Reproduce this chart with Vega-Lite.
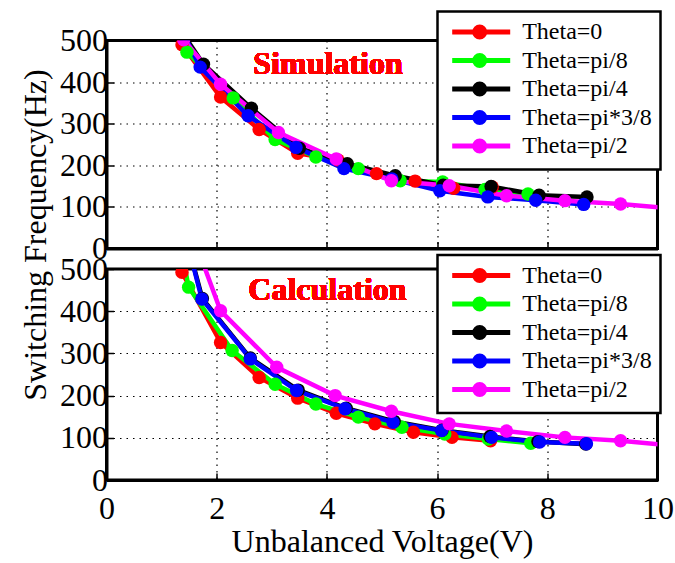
{
  "$schema": "https://vega.github.io/schema/vega-lite/v6.json",
  "padding": {"top": 8.5, "left": 17.5, "right": 5, "bottom": 5},
  "background": "white",
  "datasets": {
    "sim": [
      {"theta": "Theta=0", "v": 1.37, "f": 490},
      {"theta": "Theta=0", "v": 2.07, "f": 364},
      {"theta": "Theta=0", "v": 2.77, "f": 286},
      {"theta": "Theta=0", "v": 3.47, "f": 229},
      {"theta": "Theta=0", "v": 4.2, "f": 213},
      {"theta": "Theta=0", "v": 4.9, "f": 180},
      {"theta": "Theta=0", "v": 5.6, "f": 162},
      {"theta": "Theta=0", "v": 6.3, "f": 145},
      {"theta": "Theta=0", "v": 7.0, "f": 148},
      {"theta": "Theta=pi/8", "v": 1.46, "f": 472},
      {"theta": "Theta=pi/8", "v": 2.3, "f": 362},
      {"theta": "Theta=pi/8", "v": 3.06, "f": 262},
      {"theta": "Theta=pi/8", "v": 3.8, "f": 220},
      {"theta": "Theta=pi/8", "v": 4.57, "f": 192},
      {"theta": "Theta=pi/8", "v": 5.33, "f": 163},
      {"theta": "Theta=pi/8", "v": 6.1, "f": 160},
      {"theta": "Theta=pi/8", "v": 6.87, "f": 142},
      {"theta": "Theta=pi/8", "v": 7.65, "f": 131},
      {"theta": "Theta=pi/4", "v": 1.42, "f": 510},
      {"theta": "Theta=pi/4", "v": 1.76, "f": 443},
      {"theta": "Theta=pi/4", "v": 2.63, "f": 337},
      {"theta": "Theta=pi/4", "v": 3.5, "f": 241},
      {"theta": "Theta=pi/4", "v": 4.37, "f": 204},
      {"theta": "Theta=pi/4", "v": 5.24, "f": 175},
      {"theta": "Theta=pi/4", "v": 6.11, "f": 152},
      {"theta": "Theta=pi/4", "v": 6.98, "f": 149},
      {"theta": "Theta=pi/4", "v": 7.85, "f": 128},
      {"theta": "Theta=pi/4", "v": 8.72, "f": 124},
      {"theta": "Theta=pi*3/8", "v": 1.42, "f": 510},
      {"theta": "Theta=pi*3/8", "v": 1.7, "f": 436},
      {"theta": "Theta=pi*3/8", "v": 2.57, "f": 319},
      {"theta": "Theta=pi*3/8", "v": 3.44, "f": 243},
      {"theta": "Theta=pi*3/8", "v": 4.31, "f": 192},
      {"theta": "Theta=pi*3/8", "v": 5.18, "f": 167},
      {"theta": "Theta=pi*3/8", "v": 6.05, "f": 139},
      {"theta": "Theta=pi*3/8", "v": 6.92, "f": 124},
      {"theta": "Theta=pi*3/8", "v": 7.79, "f": 116},
      {"theta": "Theta=pi*3/8", "v": 8.66, "f": 106},
      {"theta": "Theta=pi/2", "v": 1.4, "f": 502},
      {"theta": "Theta=pi/2", "v": 2.07, "f": 395},
      {"theta": "Theta=pi/2", "v": 3.12, "f": 279},
      {"theta": "Theta=pi/2", "v": 4.17, "f": 215},
      {"theta": "Theta=pi/2", "v": 5.17, "f": 163},
      {"theta": "Theta=pi/2", "v": 6.22, "f": 151},
      {"theta": "Theta=pi/2", "v": 7.26, "f": 127},
      {"theta": "Theta=pi/2", "v": 8.32, "f": 115},
      {"theta": "Theta=pi/2", "v": 9.33, "f": 107},
      {"theta": "Theta=pi/2", "v": 10.4, "f": 95}
    ],
    "calc": [
      {"theta": "Theta=0", "v": 1.37, "f": 492},
      {"theta": "Theta=0", "v": 2.07, "f": 326},
      {"theta": "Theta=0", "v": 2.77, "f": 243},
      {"theta": "Theta=0", "v": 3.47, "f": 194},
      {"theta": "Theta=0", "v": 4.17, "f": 158},
      {"theta": "Theta=0", "v": 4.87, "f": 133},
      {"theta": "Theta=0", "v": 5.57, "f": 113},
      {"theta": "Theta=0", "v": 6.27, "f": 101},
      {"theta": "Theta=0", "v": 6.97, "f": 93},
      {"theta": "Theta=pi/8", "v": 1.4, "f": 520},
      {"theta": "Theta=pi/8", "v": 1.49, "f": 457},
      {"theta": "Theta=pi/8", "v": 2.28, "f": 307},
      {"theta": "Theta=pi/8", "v": 3.06, "f": 227},
      {"theta": "Theta=pi/8", "v": 3.8, "f": 180},
      {"theta": "Theta=pi/8", "v": 4.57, "f": 149},
      {"theta": "Theta=pi/8", "v": 5.36, "f": 125},
      {"theta": "Theta=pi/8", "v": 6.14, "f": 109},
      {"theta": "Theta=pi/8", "v": 6.93, "f": 97},
      {"theta": "Theta=pi/8", "v": 7.7, "f": 87},
      {"theta": "Theta=pi/4", "v": 1.55, "f": 522},
      {"theta": "Theta=pi/4", "v": 1.74, "f": 430},
      {"theta": "Theta=pi/4", "v": 2.61, "f": 289},
      {"theta": "Theta=pi/4", "v": 3.48, "f": 213},
      {"theta": "Theta=pi/4", "v": 4.35, "f": 170},
      {"theta": "Theta=pi/4", "v": 5.22, "f": 139},
      {"theta": "Theta=pi/4", "v": 6.09, "f": 118},
      {"theta": "Theta=pi/4", "v": 6.96, "f": 103},
      {"theta": "Theta=pi/4", "v": 7.83, "f": 91},
      {"theta": "Theta=pi/4", "v": 8.7, "f": 85},
      {"theta": "Theta=pi*3/8", "v": 1.55, "f": 520},
      {"theta": "Theta=pi*3/8", "v": 1.73, "f": 429},
      {"theta": "Theta=pi*3/8", "v": 2.61, "f": 287},
      {"theta": "Theta=pi*3/8", "v": 3.45, "f": 212},
      {"theta": "Theta=pi*3/8", "v": 4.33, "f": 169},
      {"theta": "Theta=pi*3/8", "v": 5.2, "f": 137},
      {"theta": "Theta=pi*3/8", "v": 6.08, "f": 117},
      {"theta": "Theta=pi*3/8", "v": 6.99, "f": 101},
      {"theta": "Theta=pi*3/8", "v": 7.86, "f": 90},
      {"theta": "Theta=pi*3/8", "v": 8.71, "f": 86},
      {"theta": "Theta=pi/2", "v": 1.72, "f": 525},
      {"theta": "Theta=pi/2", "v": 2.07, "f": 401},
      {"theta": "Theta=pi/2", "v": 3.09, "f": 267},
      {"theta": "Theta=pi/2", "v": 4.15, "f": 200},
      {"theta": "Theta=pi/2", "v": 5.17, "f": 163},
      {"theta": "Theta=pi/2", "v": 6.22, "f": 133},
      {"theta": "Theta=pi/2", "v": 7.26, "f": 116},
      {"theta": "Theta=pi/2", "v": 8.32, "f": 101},
      {"theta": "Theta=pi/2", "v": 9.33, "f": 93},
      {"theta": "Theta=pi/2", "v": 10.4, "f": 80}
    ]
  },
  "vconcat": [
    {
      "width": 551,
      "height": 208,
      "data": {"name": "sim"},
      "layer": [
        {
          "mark": {"type": "line", "strokeWidth": 4.5, "clip": true},
          "encoding": {
            "x": {"field": "v", "type": "quantitative", "scale": {"domain": [0, 10], "nice": false},
                  "axis": {"values": [0, 2, 4, 6, 8, 10], "labels": false, "title": null}},
            "y": {"field": "f", "type": "quantitative", "scale": {"domain": [0, 500], "nice": false},
                  "axis": {"values": [0, 100, 200, 300, 400, 500], "title": "Switching Frequency(Hz)", "titleX": -71, "titleY": 194, "titleBaseline": "middle", "titleAngle": -90}},
            "color": {"field": "theta", "type": "nominal",
                      "scale": {"domain": ["Theta=0", "Theta=pi/8", "Theta=pi/4", "Theta=pi*3/8", "Theta=pi/2"], "range": ["#ff0000", "#00ff00", "#000000", "#0000ff", "#ff00ff"]},
                      "legend": {"orient": "none", "legendX": 331, "legendY": -29}}
          }
        },
        {
          "mark": {"type": "point", "filled": true, "size": 180, "opacity": 1, "clip": true},
          "encoding": {
            "x": {"field": "v", "type": "quantitative"},
            "y": {"field": "f", "type": "quantitative"},
            "color": {"field": "theta", "type": "nominal"}
          }
        },
        {
          "mark": {"type": "text", "color": "#ff0000", "fontSize": 32, "fontWeight": "bold", "font": "Liberation Serif", "baseline": "middle", "align": "center"},
          "encoding": {
            "x": {"datum": 4.02},
            "y": {"datum": 443},
            "text": {"value": "Simulation"}
          }
        }
      ]
    },
    {
      "width": 551,
      "height": 211,
      "data": {"name": "calc"},
      "layer": [
        {
          "mark": {"type": "line", "strokeWidth": 4.5, "clip": true},
          "encoding": {
            "x": {"field": "v", "type": "quantitative", "scale": {"domain": [0, 10], "nice": false},
                  "axis": {"values": [0, 2, 4, 6, 8, 10], "title": "Unbalanced Voltage(V)", "labelPadding": 20}},
            "y": {"field": "f", "type": "quantitative", "scale": {"domain": [0, 500], "nice": false},
                  "axis": {"values": [0, 100, 200, 300, 400, 500], "title": null}},
            "color": {"field": "theta", "type": "nominal",
                      "legend": {"orient": "none", "legendX": 331, "legendY": -14}}
          }
        },
        {
          "mark": {"type": "point", "filled": true, "size": 180, "opacity": 1, "clip": true},
          "encoding": {
            "x": {"field": "v", "type": "quantitative"},
            "y": {"field": "f", "type": "quantitative"},
            "color": {"field": "theta", "type": "nominal"}
          }
        },
        {
          "mark": {"type": "text", "color": "#ff0000", "fontSize": 32, "fontWeight": "bold", "font": "Liberation Serif", "baseline": "middle", "align": "center"},
          "encoding": {
            "x": {"datum": 4.01},
            "y": {"datum": 450},
            "text": {"value": "Calculation"}
          }
        }
      ]
    }
  ],
  "spacing": 20.5,
  "bounds": "flush",
  "resolve": {
    "scale": {"color": "shared", "y": "independent", "x": "independent"},
    "legend": {"color": "independent"},
    "axis": {"x": "independent", "y": "independent"}
  },
  "config": {
    "font": "Liberation Serif",
    "view": {"stroke": "black", "strokeWidth": 3},
    "axis": {
      "domainColor": "black", "domainWidth": 3,
      "tickColor": "black", "tickWidth": 1.5, "tickSize": -7,
      "labelFont": "Liberation Serif", "labelFontSize": 32, "labelColor": "black", "labelPadding": 9,
      "titleFont": "Liberation Serif", "titleFontSize": 32, "titleFontWeight": "normal", "titleColor": "black",
      "grid": true, "gridColor": "black", "gridDash": [1.5, 5], "gridOpacity": 1, "gridWidth": 1.2,
      "labelFlush": false, "labelOverlap": false
    },
    "axisY": {"labelPadding": 6},
    "axisX": {"titlePadding": 2},
    "legend": {
      "title": null,
      "strokeColor": "black", "strokeWidth": 2.5, "fillColor": "white",
      "padding": 8,
      "labelFont": "Liberation Serif", "labelFontSize": 24, "labelColor": "black",
      "symbolType": "M-0.58,0H5.22M1.67,0A0.5,0.5 0 1,1 2.67,0A0.5,0.5 0 1,1 1.67,0Z",
      "symbolSize": 400,
      "symbolStrokeWidth": 5,
      "labelOffset": 51.7,
      "rowPadding": -2.5,
      "symbolOpacity": 1
    }
  }
}
